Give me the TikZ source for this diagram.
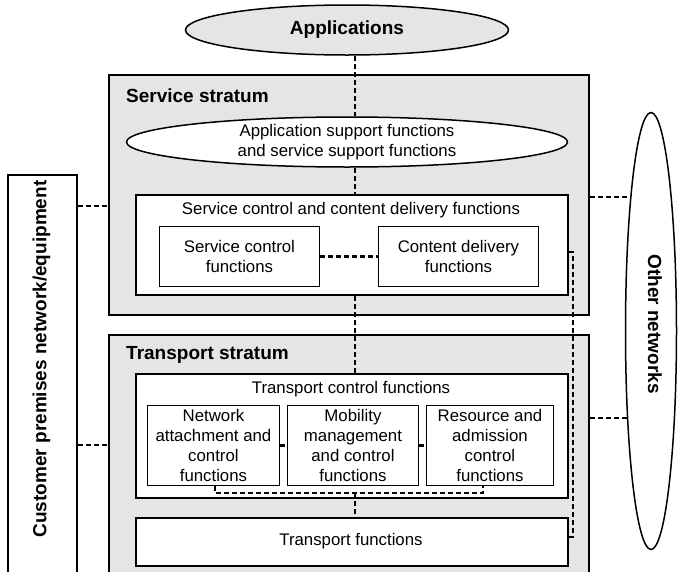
\documentclass[tikz,border=0pt]{standalone}
\usepackage{fontspec}
\setmainfont{Liberation Sans}
\usetikzlibrary{shapes.geometric}
\definecolor{gfill}{RGB}{229,229,229}
\tikzset{
  stratum/.style={draw, line width=2pt, fill=gfill, anchor=north west, inner sep=0pt},
  bigbox/.style={draw, line width=2pt, fill=white, anchor=north west, inner sep=0pt},
  smallbox/.style={draw, line width=0.9pt, fill=white, anchor=north west, inner sep=0pt, align=center, font=\fontsize{16.8}{20}\selectfont},
  ell/.style={draw, ellipse, line width=1.5pt, inner sep=0pt},
  reg/.style={font=\fontsize{16.8}{20}\selectfont, align=center, inner sep=0pt},
  hd/.style={font=\fontsize{19}{22}\selectfont\bfseries, inner sep=0pt},
  dashline/.style={line width=2.6pt, dash pattern=on 5pt off 3pt},
}
\begin{document}
\begin{tikzpicture}[x=1pt,y=-1pt]
\useasboundingbox (0,0) rectangle (678,571);
\clip (0,0) rectangle (678,571);
% outer boxes
\node[stratum, minimum width=480, minimum height=240] (serv) at (108,74) {};
\node[stratum, minimum width=480, minimum height=260] (trans) at (108,334) {};
\node[draw, line width=2pt, fill=white, anchor=north west, inner sep=0pt, minimum width=69, minimum height=420] (cpn) at (7,174) {};
\node[hd, rotate=90] (cpntext) at (41.5,359) {Customer premises network/equipment};
% ellipses
\node[ell, fill=gfill, minimum width=323, minimum height=50] (app) at (347,30) {};
\node[hd] (apptext) at (347,30) {Applications};
\node[ell, fill=white, minimum width=441, minimum height=50] (asf) at (347,142) {};
\node[reg] (asftext) at (347,142) {Application support functions\\and service support functions};
\node[ell, fill=white, minimum width=51, minimum height=437] (oth) at (651,331) {};
\node[hd, rotate=-90] (othtext) at (655,324) {Other networks};
% stratum labels
\node[hd, anchor=west] (servlab) at (126,96) {Service stratum};
\node[hd, anchor=west] (translab) at (126,355) {Transport stratum};
% service stratum inner
\node[bigbox, minimum width=432, minimum height=100] (sccd) at (135,194) {};
\node[reg] (sccdtitle) at (351,210) {Service control and content delivery functions};
\node[smallbox, minimum width=160, minimum height=60] (scf) at (159,226) {Service control\\functions};
\node[smallbox, minimum width=160, minimum height=60] (cdf) at (378,226) {Content delivery\\functions};
% transport stratum inner
\node[bigbox, minimum width=432, minimum height=124] (tcf) at (135,373) {};
\node[reg] (tcftitle) at (351,389) {Transport control functions};
\node[smallbox, minimum width=132, minimum height=80] (nacf) at (147,405) {Network\\attachment and\\control\\functions};
\node[smallbox, minimum width=131, minimum height=80] (mmcf) at (287,405) {Mobility\\management\\and control\\functions};
\node[smallbox, minimum width=127, minimum height=80] (racf) at (426,405) {Resource and\\admission\\control\\functions};
\node[bigbox, minimum width=432, minimum height=48] (tf) at (135,517) {};
\node[reg] (tftext) at (351,541) {Transport functions};
% connectors
\draw[dashline] (app.south -| 355,0) -- (asf.north -| 355,0);
\draw[dashline] (asf.south -| 355,0) -- (sccd.north -| 355,0);
\draw[dashline] (sccd.south -| 355,0) -- (tcf.north -| 355,0);
\draw[dashline] (scf.east) -- (cdf.west);
\draw[dashline] (nacf.east) -- (mmcf.west);
\draw[dashline] (mmcf.east) -- (racf.west);
\coordinate (ubl) at (215,493);
\coordinate (ubr) at (483,493);
\draw[dashline] (nacf.south -| ubl) -- (ubl) -- (ubr) -- (racf.south -| ubr);
\draw[dashline] (355,493) -- (tf.north -| 355,0);
\coordinate (rtop) at (573,252);
\coordinate (rbot) at (573,537);
\draw[dashline] (sccd.east |- rtop) -- (rtop) -- (rbot) -- (tf.east |- rbot);
\draw[dashline] (cpn.east |- 0,206) -- (serv.west |- 0,206);
\draw[dashline] (cpn.east |- 0,445) -- (trans.west |- 0,445);
\coordinate (oa) at (631,197);
\coordinate (ob) at (627.6,418);
\draw[dashline] (serv.east |- oa) -- (oa);
\draw[dashline] (trans.east |- ob) -- (ob);
\end{tikzpicture}
\end{document}
